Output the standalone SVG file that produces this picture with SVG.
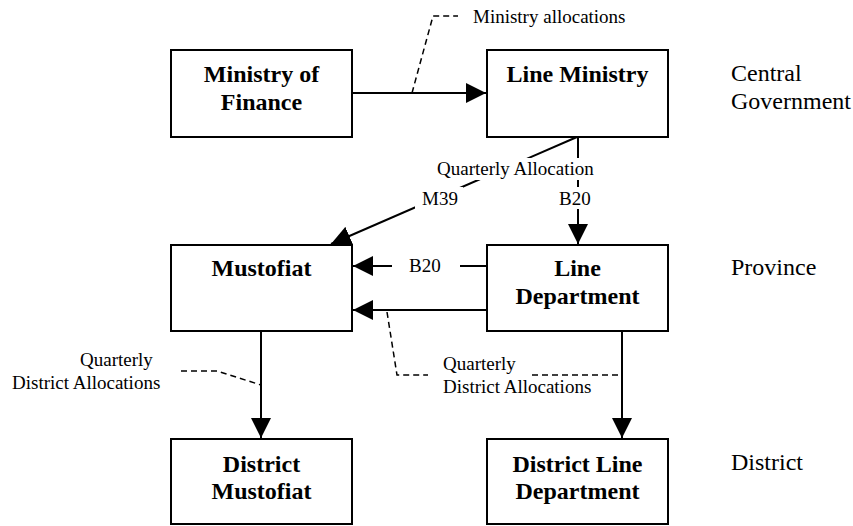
<svg xmlns="http://www.w3.org/2000/svg" width="853" height="526" viewBox="0 0 853 526">
<style>
text{font-family:'Liberation Serif','Times New Roman',Times,serif}
.box{fill:#fff;stroke:#000;stroke-width:2}
.bt{font-size:24px;font-weight:bold;text-anchor:middle;fill:#000}
.lv{font-size:24px;fill:#000}
.sm{font-size:19px;fill:#000}
.ln{fill:none;stroke:#000;stroke-width:2}
.ds{fill:none;stroke:#000;stroke-width:1.5;stroke-dasharray:6 4}
.dt{fill:none;stroke:#000;stroke-width:1.2;stroke-dasharray:1.5 2}
.bg{fill:#fff}
</style>
<defs>
<marker id="ah" markerUnits="userSpaceOnUse" markerWidth="20" markerHeight="20" viewBox="0 0 18 18" refX="18" refY="9" orient="auto">
<path d="M0,0 L18,9 L0,18 Z" fill="#000"/>
</marker>
</defs>
<g id="connectors">
<line class="ln" x1="352" y1="93" x2="486" y2="93" marker-end="url(#ah)"/>
<polyline class="ds" points="412,93 433,16 458,16"/>
<line class="ln" x1="577" y1="137" x2="331" y2="244" marker-end="url(#ah)"/>
<line class="ln" x1="578" y1="137" x2="578" y2="244" marker-end="url(#ah)"/>
<line class="ln" x1="487" y1="266" x2="353" y2="266" marker-end="url(#ah)"/>
<line class="ln" x1="487" y1="310" x2="353" y2="310" marker-end="url(#ah)"/>
<polyline class="dt" points="352,310 261,310 261,331"/>
<line class="ln" x1="261" y1="331" x2="261" y2="438" marker-end="url(#ah)"/>
<line class="ln" x1="622" y1="331" x2="622" y2="438" marker-end="url(#ah)"/>
<polyline class="ds" points="387,312 397,375 428,375"/>
<line class="ds" x1="532" y1="375" x2="622" y2="375"/>
<polyline class="ds" points="181,371 217,371 261,385"/>
<rect class="bg" x="433" y="158" width="168" height="22"/>
<rect class="bg" x="415" y="187" width="48" height="22"/>
<rect class="bg" x="555" y="187" width="40" height="22"/>
<rect class="bg" x="392" y="255" width="68" height="22"/>
<text class="sm" x="437" y="175">Quarterly Allocation</text>
<text class="sm" x="422" y="205">M39</text>
<text class="sm" x="559" y="205">B20</text>
<text class="sm" x="409" y="272">B20</text>
<text class="sm" x="473" y="23">Ministry allocations</text>
<text class="sm" x="443" y="370">Quarterly</text>
<text class="sm" x="443" y="393">District Allocations</text>
<text class="sm" x="80" y="366">Quarterly</text>
<text class="sm" x="12" y="389">District Allocations</text>
</g>
<g id="mof"><rect class="box" x="171" y="50" width="181" height="87"/><text class="bt" x="261.5" y="82">Ministry of</text><text class="bt" x="261.5" y="110">Finance</text></g>
<g id="lm"><rect class="box" x="487" y="50" width="181" height="87"/><text class="bt" x="577.5" y="82">Line Ministry</text></g>
<g id="must"><rect class="box" x="171" y="245" width="181" height="86"/><text class="bt" x="261.5" y="276">Mustofiat</text></g>
<g id="ld"><rect class="box" x="487" y="245" width="181" height="86"/><text class="bt" x="577.5" y="276">Line</text><text class="bt" x="577.5" y="304">Department</text></g>
<g id="dm"><rect class="box" x="171" y="439" width="181" height="85"/><text class="bt" x="261.5" y="472">District</text><text class="bt" x="261.5" y="499">Mustofiat</text></g>
<g id="dld"><rect class="box" x="487" y="439" width="181" height="85"/><text class="bt" x="577.5" y="472">District Line</text><text class="bt" x="577.5" y="499">Department</text></g>
<g id="levels">
<text class="lv" x="731" y="81">Central</text>
<text class="lv" x="731" y="109">Government</text>
<text class="lv" x="731" y="275">Province</text>
<text class="lv" x="731" y="470">District</text>
</g>
</svg>
